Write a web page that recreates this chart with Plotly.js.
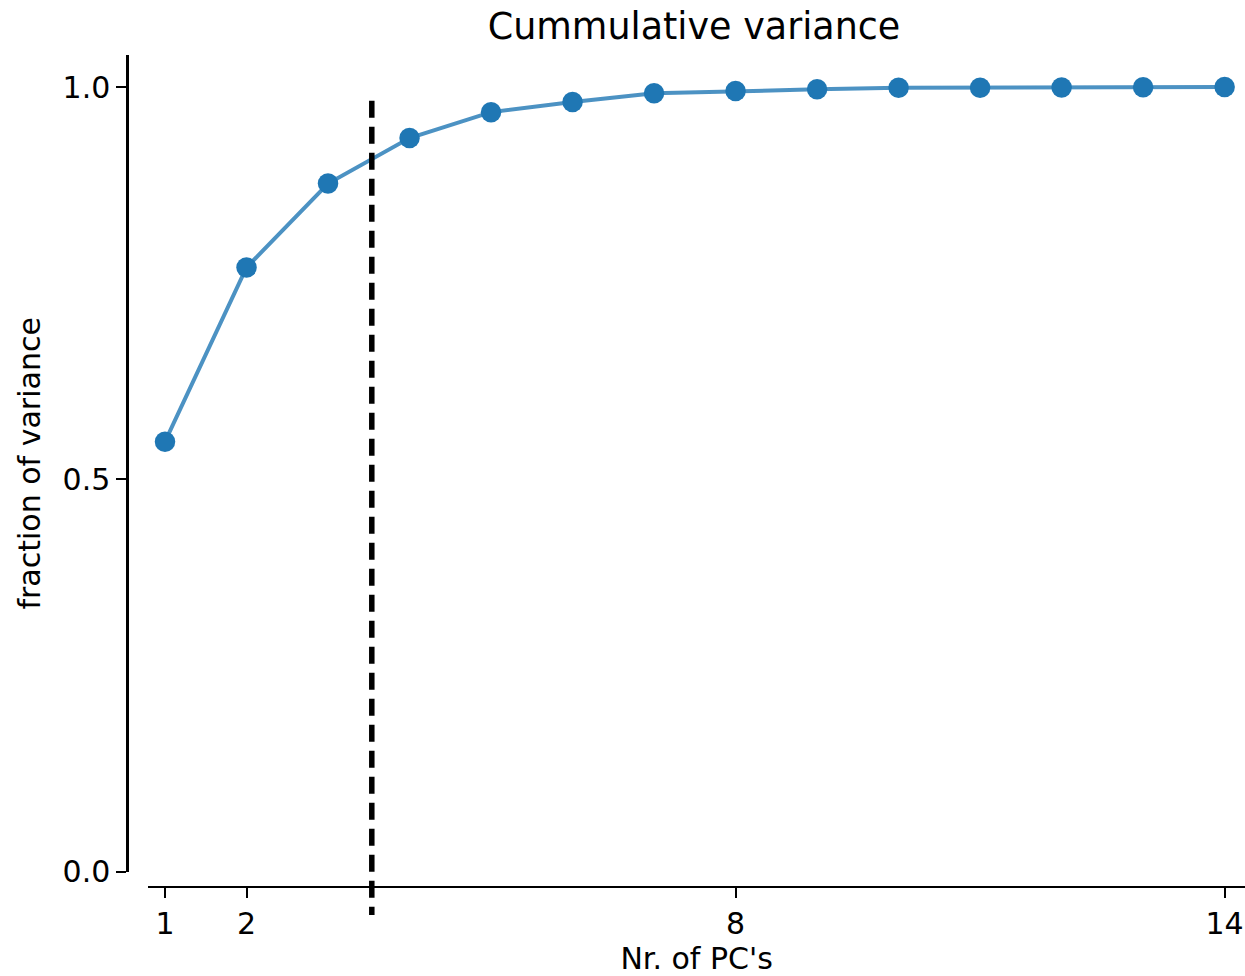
<!DOCTYPE html>
<html>
<head>
<meta charset="utf-8">
<script src="https://cdn.plot.ly/plotly-3.0.1.min.js"></script>
<style>
html,body{margin:0;padding:0;background:#fff;}
#chart{width:1245px;height:976px;}
</style>
</head>
<body>
<div id="chart"></div>
<script>
// Data
var nrPCs = [1, 2, 3, 4, 5, 6, 7, 8, 9, 10, 11, 12, 13, 14];
var cumVariance = [0.548, 0.770, 0.877, 0.935, 0.968, 0.981, 0.992, 0.995, 0.997, 0.999, 0.999, 0.9995, 0.9996, 1.0];
var thresholdX = [3.537];
var xTickVals = [1, 2, 8, 14];
var xTickText = ['1', '2', '8', '14'];
var yTickVals = [0, 0.5, 1.0];
var yTickText = ['0.0', '0.5', '1.0'];

var W = 1245, H = 976;
var FONT = 'DejaVu Sans, Liberation Sans, sans-serif';

var trace = {
  x: nrPCs,
  y: cumVariance,
  type: 'scatter',
  mode: 'lines+markers',
  line: {color: 'rgba(31,119,180,0.8)', width: 4},
  marker: {color: '#1f77b4', size: 20.5},
  cliponaxis: false,
  showlegend: false,
  hoverinfo: 'x+y'
};

var layout = {
  width: W,
  height: H,
  margin: {l: 0, r: 0, t: 0, b: 0, pad: 0},
  paper_bgcolor: '#ffffff',
  plot_bgcolor: '#ffffff',
  font: {family: FONT, size: 30, color: '#000000'},
  title: {
    text: 'Cummulative variance',
    font: {family: FONT, size: 36.5, color: '#000000'},
    xref: 'container', yref: 'container',
    x: 694 / W, xanchor: 'center',
    y: 1 - 26 / H, yanchor: 'middle'
  },
  xaxis: {
    domain: [148.3 / W, 1],
    range: [0.795, 14.25],
    anchor: 'free',
    position: 1 - 886.7 / H,
    showgrid: false,
    zeroline: false,
    showline: true,
    linecolor: '#000000',
    linewidth: 2.5,
    ticks: 'outside',
    ticklen: 10,
    tickwidth: 2,
    tickcolor: '#000000',
    tickmode: 'array',
    tickvals: xTickVals,
    ticktext: xTickText,
    tickfont: {family: FONT, size: 30, color: '#000000'},
    automargin: false,
    title: {text: "Nr. of PC's", font: {family: FONT, size: 30, color: '#000000'}, standoff: 18}
  },
  yaxis: {
    domain: [1 - 871.7 / H, 1 - 55 / H],
    range: [0, 1.0408],
    anchor: 'free',
    position: 127.3 / W,
    showgrid: false,
    zeroline: false,
    showline: true,
    linecolor: '#000000',
    linewidth: 2.5,
    ticks: 'outside',
    ticklen: 10,
    tickwidth: 2,
    tickcolor: '#000000',
    tickmode: 'array',
    tickvals: yTickVals,
    ticktext: yTickText,
    tickfont: {family: FONT, size: 30, color: '#000000'},
    automargin: false,
    title: {text: 'fraction of variance', font: {family: FONT, size: 30, color: '#000000'}, standoff: 12}
  },
  shapes: thresholdX.map(function (v) {
    return {
      type: 'line',
      xref: 'x', yref: 'paper',
      x0: v, x1: v,
      y0: 1 - 100.7 / H, y1: 1 - 915 / H,
      line: {color: '#000000', width: 5.5, dash: '17px,9px'},
      layer: 'above'
    };
  })
};

Plotly.newPlot('chart', [trace], layout, {displayModeBar: false, staticPlot: true});
</script>
</body>
</html>
